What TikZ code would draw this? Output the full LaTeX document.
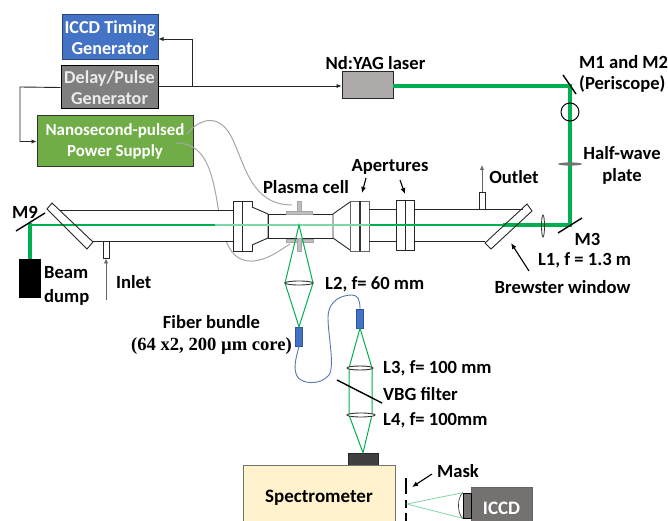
\documentclass[tikz,border=0pt]{standalone}
\usepackage{fontspec}
\setmainfont{Carlito}
\newfontfamily\serifb{Liberation Serif}
\usetikzlibrary{arrows.meta}
\definecolor{beam}{HTML}{00B050}
\definecolor{paleb}{HTML}{7FD7A7}
\definecolor{fibre}{HTML}{2F5597}
\definecolor{headblue}{HTML}{4472C4}
\definecolor{cable}{HTML}{A6A6A6}
\definecolor{elec}{HTML}{BFBFBF}
\tikzset{
  x=1pt,y=-1pt,
  txt/.style={font=\fontsize{18.6}{22}\selectfont\bfseries,inner sep=0pt,align=center,text=black},
  box/.style={draw,line width=1pt,inner sep=0pt,align=center,font=\fontsize{18.2}{20.5}\selectfont\bfseries},
  tube/.style={line width=.9pt,draw=black!85},
  sig/.style={line width=.9pt,draw=black!85,-{Latex[length=5pt,width=4.5pt]}},
  callout/.style={line width=1.1pt,-{Latex[length=6pt,width=5pt]}},
  ray/.style={line width=1pt,draw=beam},
  heavy/.style={line width=3.6pt,draw=beam},
  optic/.style={line width=.9pt,draw=black!80,fill=white},
  head/.style={fill=headblue,draw=fibre,line width=.4pt,inner sep=0pt},
  gasstub/.style={draw=black!85,line width=.9pt,fill=white,inner sep=0pt},
  electrode/.style={fill=elec,draw=black!35,line width=.4pt}
}
\begin{document}
\begin{tikzpicture}
\useasboundingbox (0,0) rectangle (668,521);
\clip (0,0) rectangle (668,521);
% electronics
\node[box,draw=fibre!80!black,fill=headblue,text=white,minimum width=96pt,minimum height=45pt] (iccdgen) at (110,37.5) {ICCD Timing\\Generator};
\node[box,draw=black,fill={rgb,255:red,127;green,127;blue,127},text=white!92!black,minimum width=97pt,minimum height=43pt] (delay) at (109.5,87.5) {Delay/Pulse\\Generator};
\node[box,draw=black!80,fill={rgb,255:red,112;green,173;blue,71},text=white,minimum width=156pt,minimum height=51pt,font=\fontsize{16.9}{20.5}\selectfont\bfseries] (power) at (115,141.5) {Nanosecond-pulsed\\Power Supply};
\node[box,draw=black!85,fill={rgb,255:red,174;green,170;blue,170},minimum width=51pt,minimum height=27pt] (laser) at (367.5,85.5) {};
\coordinate (branch) at (192,86);
\coordinate (leftrun) at (20,87);
\draw[tube] (delay.east |- branch) -- (branch);
\draw[sig] (branch) -- (laser.west |- branch);
\draw[sig] (branch) |- (iccdgen.east |- 0,39);
\draw[sig] (delay.west) -- (leftrun) |- (power.west);
% cables
\coordinate (c1a) at (187,134);
\coordinate (c1b) at (292,205);
\coordinate (c2a) at (176,143);
\coordinate (c2b) at (290,244);
\draw[cable,line width=1pt] (c1a) .. controls (200,118) and (220,112) .. (233,140) .. controls (245,166) and (252,205) .. (292,205);
\draw[cable,line width=1pt] (c2a) .. controls (205,143) and (212,170) .. (218,207) .. controls (224,250) and (235,262) .. (253,261) .. controls (268,260) and (280,250) .. (c2b);
% tube, white so that it hides the cable
\fill[white] (60,210) rectangle (233,241);
\draw[tube] (60,210) -- (233,210);
\draw[tube] (92,241) -- (233,241);
\draw[tube,fill=white] (233,201) rectangle (252,251);
\draw[tube] (242.5,201) -- (242.5,251);
\draw[tube,fill=white] (252,207) -- (268,214) -- (268,238) -- (252,245);
\draw[tube,fill=white] (268,214) rectangle (333,238);
\draw[tube,fill=white] (350,202) -- (333,214) -- (333,238) -- (350,250);
\draw[tube,draw=black!60,fill=white] (350,201) rectangle (369,251);
\draw[line width=1.2pt,black!80] (360,201) -- (360,251);
\draw[tube] (369,209) -- (396,209);
\draw[tube] (369,241) -- (396,241);
\draw[tube,fill=white] (396,200) rectangle (414,250);
\draw[tube] (405,200) -- (405,250);
\draw[tube] (414,209) -- (523,209);
\draw[tube] (414,241) -- (485,241);
% electrodes
\draw[electrode] (297,201) rectangle (301,211);
\draw[electrode] (286,211) rectangle (312,214);
\draw[electrode] (286,239) rectangle (313,242);
\draw[electrode] (297,238) rectangle (301,251);
% gas stubs
\node[gasstub,minimum width=6pt,minimum height=17pt] (outstub) at (482,200.5) {};
\node[gasstub,minimum width=6pt,minimum height=17pt] (instub) at (106,249.5) {};
\coordinate (outtip) at (482,165);
\coordinate (intail) at (106,300);
\draw[sig,draw=black!60,{Latex[length=5pt,width=4.5pt]}-] (outtip) -- (outstub.north);
\draw[sig,draw=black!60] (intail) -- (instub.south);
% main beam
\coordinate (bA) at (393,86);
\coordinate (bB) at (570,86);
\coordinate (bC) at (570,225);
\coordinate (bD) at (503,225);
\coordinate (bE) at (30,225);
\coordinate (bF) at (30,259);
\draw[heavy,line join=miter] (bA) -- (bB) -- (bC) -- (bD);
\draw[line width=1.7pt,beam] (bD) -- (370,225);
\draw[line width=1.4pt,paleb] (370,225) -- (215,225);
\draw[line width=1.6pt,beam] (215,225) -- (30,225);
\draw[heavy,line cap=rect] (bE) -- (bF);
% Brewster windows
\draw[tube] (52,203) -- (93,242) -- (87,249) -- (47,209) -- cycle;
\draw[tube] (527,204) -- (532,211) -- (491,249) -- (485,243) -- cycle;
% mirrors and beam optics
\coordinate (m1a) at (563,75); \coordinate (m1b) at (576,94);
\coordinate (m3a) at (558,233); \coordinate (m3b) at (582,218);
\coordinate (m9a) at (16,231); \coordinate (m9b) at (45,213);
\draw[line width=1.4pt] (m1a) -- (m1b);
\draw[line width=1.4pt] (m3a) -- (m3b);
\draw[line width=1.4pt] (m9a) -- (m9b);
\draw[line width=1pt] (570,112) circle (9);
\fill[black!55] (570,164) ellipse (12 and 1.6);
\draw[line width=.8pt,black!80] (543,226) ellipse (1.5 and 11);
\node[fill=black,inner sep=0pt,minimum width=22pt,minimum height=39pt] (dump) at (30,278.5) {};
% collection optics
\coordinate (focus) at (299,225);
\coordinate (l2l) at (285,283); \coordinate (l2r) at (313,283);
\coordinate (l3l) at (349,368); \coordinate (l3r) at (372,368);
\coordinate (l4l) at (349,415); \coordinate (l4r) at (372,415);
\node[head,minimum width=7pt,minimum height=19pt] (head1) at (299,336.5) {};
\node[head,minimum width=7pt,minimum height=19pt] (head2) at (360,318.5) {};
\node[fill=black!75,draw=black!85,line width=.4pt,inner sep=0pt,minimum width=30pt,minimum height=12pt] (entry) at (363,459) {};
\draw[ray] (focus) -- (l2l) -- (head1.north) -- (l2r) -- cycle;
\draw[ray] (head2.south) -- (l3l) -- (l4l) -- (entry.north) -- (l4r) -- (l3r) -- cycle;
\draw[fibre!80,line width=.9pt] (head1.south) .. controls (296,358) and (293,368) .. (297,376) .. controls (301,384) and (320,386) .. (329,375) .. controls (335,366) and (328,335) .. (328,318) .. controls (328,298) and (345,295) .. (352,295) .. controls (358,295) and (360,300) .. (head2.north);
\draw[optic] (299,283) ellipse (14 and 2);
\draw[optic] (360,368) ellipse (13 and 2);
\draw[optic] (361,415) ellipse (14 and 2);
\coordinate (vbga) at (337,380); \coordinate (vbgb) at (382,403);
\draw[line width=1.4pt] (vbga) -- (vbgb);
% spectrometer, mask, camera
\node[box,draw=black!55,fill={rgb,255:red,255;green,242;blue,204},minimum width=152pt,minimum height=65pt,text=black,font=\fontsize{19}{22}\selectfont\bfseries] (spec) at (319,497.5) {Spectrometer};
\coordinate (mask1) at (406,478); \coordinate (mask2) at (406,494);
\coordinate (mask3) at (406,500); \coordinate (mask4) at (406,508);
\coordinate (mask5) at (406,513); \coordinate (mask6) at (406,525);
\draw[line width=1.2pt] (mask1) -- (mask2) (mask3) -- (mask4) (mask5) -- (mask6);
\node[box,draw=black!60,fill={rgb,255:red,118;green,113;blue,113},text=white,minimum width=61pt,minimum height=43pt,font=\fontsize{19}{22}\selectfont\bfseries] (iccd) at (501.5,508.5) {ICCD};
\node[draw=black,line width=.6pt,fill={rgb,255:red,118;green,113;blue,113},inner sep=0pt,minimum width=8pt,minimum height=25pt] (nose) at (467,505.5) {};
\coordinate (slit) at (407,504);
\draw[paleb,line width=.8pt] (nose.north west) -- (slit) -- (nose.south west);
\draw[line width=.6pt,black!80] (nose.north west) .. controls (457,498) and (457,513) .. (nose.south west);
% callouts
\node[txt] (apt) at (390,167) {Apertures};
\node[txt] (brew) at (562.5,287) {Brewster window};
\node[txt] (mask) at (458,471) {Mask};
\coordinate (t1) at (362,193); \coordinate (s1) at (366,178);
\coordinate (t2) at (405,194); \coordinate (s2) at (400,180);
\coordinate (t3) at (511,243); \coordinate (s3) at (529,271);
\coordinate (t4) at (412,487); \coordinate (s4) at (432,474);
\draw[callout] (s1) -- (t1);
\draw[callout] (s2) -- (t2);
\draw[callout] (s3) -- (t3);
\draw[callout] (s4) -- (t4);
% labels
\node[txt] (tlaser) at (375.5,63) {Nd:YAG laser};
\node[txt,anchor=west] (tm1) at (579,62) {M1 and M2};
\node[txt,anchor=west] (tper) at (579,84) {(Periscope)};
\node[txt] (thw) at (622,153) {Half-wave};
\node[txt] (tpl) at (622,176) {plate};
\node[txt] (tout) at (514,177) {Outlet};
\node[txt] (tpc) at (306,187) {Plasma cell};
\node[txt] (tm9) at (25,212) {M9};
\node[txt] (tm3) at (587.5,239) {M3};
\node[txt] (tl1) at (584.5,260) {L1, f = 1.3 m};
\node[txt,anchor=west] (tb1) at (44,273) {Beam};
\node[txt,anchor=west] (tb2) at (44,297) {dump};
\node[txt,anchor=west] (tin) at (116,282) {Inlet};
\node[txt,anchor=west] (tl2) at (325,284) {L2, f= 60 mm};
\node[txt] (tfb) at (211.5,322) {Fiber bundle};
\node[txt,font=\fontsize{18.6}{22}\serifb\bfseries] (tcore) at (211.5,346) {(64 x2, 200 µm core)};
\node[txt,anchor=west] (tl3) at (383,368) {L3, f= 100 mm};
\node[txt,anchor=west] (tvbg) at (383,394) {VBG filter};
\node[txt,anchor=west] (tl4) at (383,420) {L4, f= 100mm};
\end{tikzpicture}
\end{document}
